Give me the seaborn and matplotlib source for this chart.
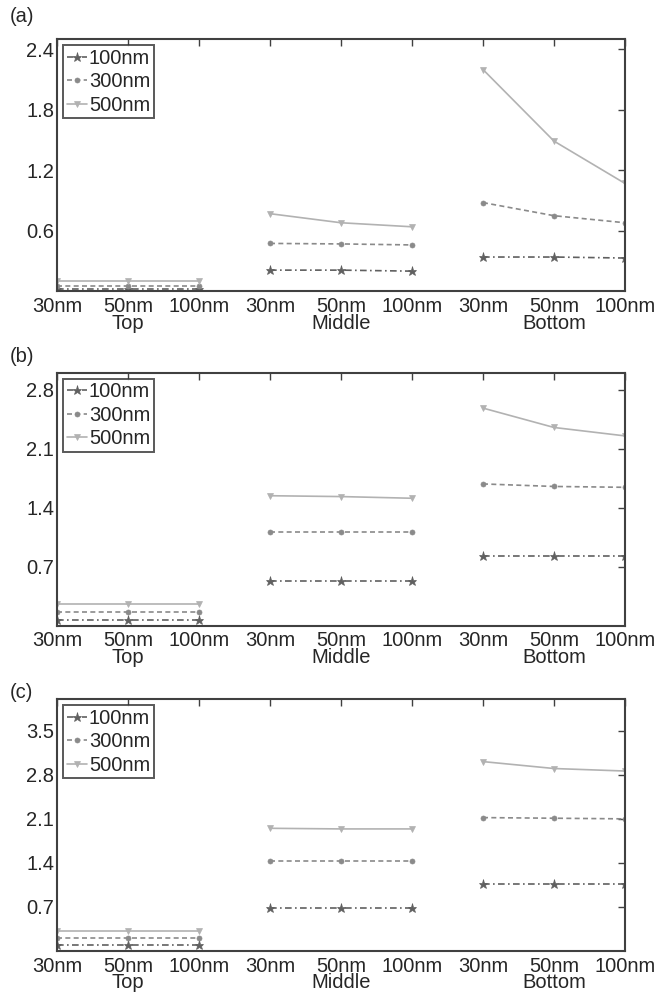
import numpy as np
import pandas as pd
import matplotlib
matplotlib.use("Agg")
import matplotlib.pyplot as plt
import seaborn as sns

# Tip sizes along the x axis, grouped by region
size_labels = ["30nm", "50nm", "100nm"]
regions = ["Top", "Middle", "Bottom"]
series = ["100nm", "300nm", "500nm"]

# Panel (a)
a_100 = [0.02, 0.02, 0.02, 0.21, 0.21, 0.20, 0.34, 0.34, 0.33]
a_300 = [0.05, 0.05, 0.05, 0.475, 0.47, 0.46, 0.88, 0.75, 0.68]
a_500 = [0.105, 0.105, 0.105, 0.77, 0.68, 0.64, 2.20, 1.49, 1.07]

# Panel (b)
b_100 = [0.06, 0.06, 0.06, 0.53, 0.53, 0.53, 0.83, 0.83, 0.83]
b_300 = [0.16, 0.16, 0.16, 1.11, 1.11, 1.11, 1.68, 1.65, 1.64]
b_500 = [0.26, 0.26, 0.26, 1.54, 1.53, 1.51, 2.58, 2.35, 2.25]

# Panel (c)
c_100 = [0.10, 0.10, 0.10, 0.69, 0.69, 0.69, 1.07, 1.07, 1.07]
c_300 = [0.21, 0.21, 0.21, 1.43, 1.43, 1.43, 2.12, 2.11, 2.10]
c_500 = [0.32, 0.32, 0.32, 1.95, 1.94, 1.94, 3.01, 2.90, 2.86]

panel_tags = ["(a)", "(b)", "(c)"]
panel_data = [(a_100, a_300, a_500), (b_100, b_300, b_500), (c_100, c_300, c_500)]
panel_ylim = [(0, 2.5), (0, 3.0), (0, 4.0)]
panel_yticks = [[0.6, 1.2, 1.8, 2.4], [0.7, 1.4, 2.1, 2.8], [0.7, 1.4, 2.1, 2.8, 3.5]]

sns.set_theme(style="white")
plt.rcParams["font.family"] = ["Liberation Sans", "DejaVu Sans"]
FS = 14.5
plt.rcParams["font.size"] = FS

text_col = "#262626"
spine_col = "#404040"
palette = {"100nm": "#606060", "300nm": "#8a8a8a", "500nm": "#b2b2b2"}
markers = {"100nm": "*", "300nm": "o", "500nm": "v"}
marker_size = {"*": 6.5, "o": 3.6, "v": 5.0}
dashes = {"100nm": (4, 2, 1, 2), "300nm": (3, 2), "500nm": ""}

W, H = 670, 993
fig = plt.figure(figsize=(W / 100, H / 100), dpi=100)

ax_left, ax_right = 57 / W, 625 / W
rows = [(39.3, 291.3), (372.7, 625.5), (699.3, 951.0)]
tag_y = [17, 357, 692]

positions = np.arange(1, 10)
tick_text = []
for r in regions:
    for j, s in enumerate(size_labels):
        tick_text.append(s + "\n" + r if j == 1 else s)


def style_marker_line(ln):
    m = ln.get_marker()
    if m in marker_size:
        ln.set_markersize(marker_size[m])
        ln.set_markeredgecolor(ln.get_color())
        ln.set_markerfacecolor(ln.get_color())
        ln.set_markeredgewidth(0.5)


for k in range(3):
    top, bot = rows[k]
    ax = fig.add_axes([ax_left, 1 - bot / H, ax_right - ax_left, (bot - top) / H])
    recs = []
    for name, vals in zip(series, panel_data[k]):
        for i, v in enumerate(vals):
            recs.append({"pos": positions[i], "value": v, "series": name,
                         "region": regions[i // 3]})
    df = pd.DataFrame(recs)
    sns.lineplot(data=df, x="pos", y="value", hue="series", style="series",
                 units="region", estimator=None, palette=palette,
                 markers=markers, dashes=dashes, linewidth=1.2,
                 ax=ax, sort=False)
    for ln in ax.lines:
        style_marker_line(ln)

    ax.set_xlim(1, 9)
    ax.set_ylim(*panel_ylim[k])
    ax.set_xticks(positions)
    ax.set_xticklabels(tick_text, color=text_col, fontsize=FS)
    for t in ax.get_xticklabels():
        t.set_linespacing(0.85)
    ax.set_yticks(panel_yticks[k])
    ax.set_yticklabels([f"{v:.1f}" for v in panel_yticks[k]], color=text_col,
                       fontsize=FS)
    ax.set_xlabel("")
    ax.set_ylabel("")
    ax.tick_params(direction="in", length=5, width=1.0, color=spine_col,
                   top=True, right=True)
    ax.tick_params(axis="x", pad=4)
    ax.tick_params(axis="y", pad=2)
    for sp in ax.spines.values():
        sp.set_visible(True)
        sp.set_color(spine_col)
        sp.set_linewidth(1.5)

    handles, labels = ax.get_legend_handles_labels()
    for h in handles:
        style_marker_line(h)
    leg = ax.legend(handles, labels, loc="upper left", frameon=True,
                    fancybox=False, fontsize=FS, handlelength=1.0,
                    handletextpad=0.1, borderpad=0.18, labelspacing=0.22,
                    borderaxespad=0.3)
    leg.get_frame().set_edgecolor("#303030")
    leg.get_frame().set_linewidth(1.4)
    for t in leg.get_texts():
        t.set_color(text_col)

    fig.text(10 / W, 1 - tag_y[k] / H, panel_tags[k], fontsize=FS,
             color=text_col, va="center", ha="left")

fig.savefig("out.png", dpi=100)
